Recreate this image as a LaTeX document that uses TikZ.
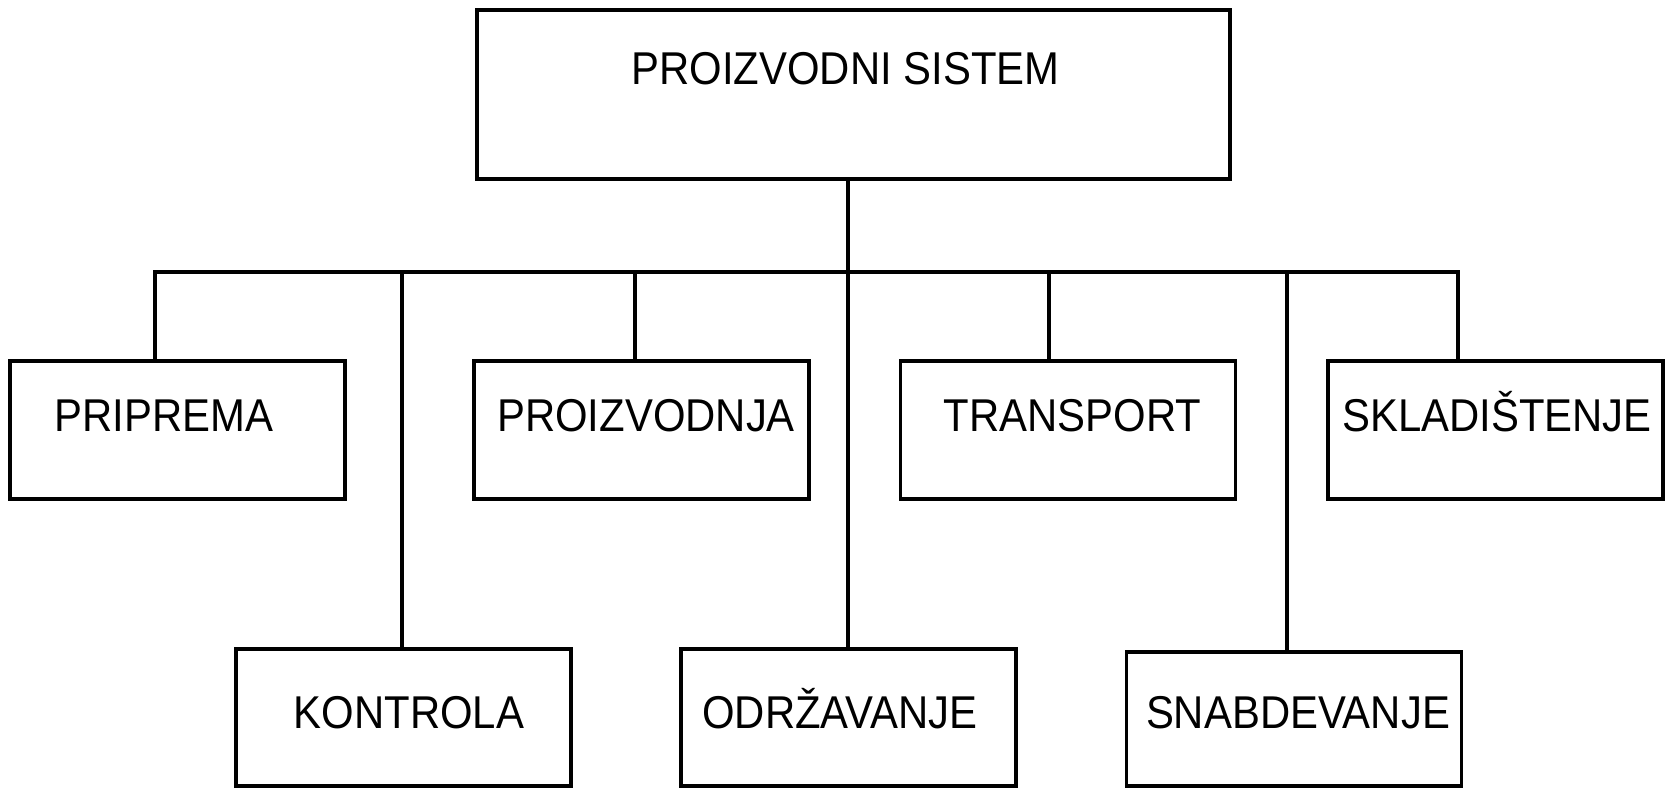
\documentclass[tikz,border=0pt]{standalone}
\usepackage{fontspec}
\setmainfont[FakeStretch=0.91]{Liberation Sans}
\begin{document}
\begin{tikzpicture}[x=1pt,y=-1pt,
  line width=3.1pt, line cap=rect, line join=miter,
  box/.style={draw, rectangle, inner sep=0pt, minimum width=335pt, minimum height=138pt},
  lbl/.style={anchor=base, inner sep=0pt, font=\fontsize{46pt}{46pt}\selectfont}]
\useasboundingbox (0,0) rectangle (1665,787);

% top box
\node[draw, rectangle, inner sep=0pt, minimum width=753pt, minimum height=169pt] (sys) at (853.5,94.5) {};
\node[lbl] (sys-t) at (845.5,84) {PROIZVODNI SISTEM};

% first row
\node[box] (pri) at (177.5,430) {};
\node[box] (pro) at (641.5,430) {};
\node[box] (tra) at (1068,430) {};
\node[box] (skl) at (1495.5,430) {};
\node[lbl] (pri-t) at (164,431) {PRIPREMA};
\node[lbl] (pro-t) at (646,431) {PROIZVODNJA};
\node[lbl] (tra-t) at (1072.5,431) {TRANSPORT};
\node[lbl] (skl-t) at (1497,431) {SKLADIŠTENJE};

% second row
\node[box, minimum height=137pt] (kon) at (403.5,717.5) {};
\node[box, minimum height=137pt] (odr) at (848.5,717.5) {};
\node[box, minimum height=134pt] (sna) at (1294,719) {};
\node[lbl] (kon-t) at (409,728.5) {KONTROLA};
\node[lbl] (odr-t) at (840,728.5) {ODRŽAVANJE};
\node[lbl] (sna-t) at (1298,728.5) {SNABDEVANJE};

% taps on the horizontal bus
\coordinate (b1) at (155,272);
\coordinate (b2) at (402,272);
\coordinate (b3) at (635,272);
\coordinate (b4) at (848,272);
\coordinate (b5) at (1049,272);
\coordinate (b6) at (1287,272);
\coordinate (b7) at (1458,272);

% bus with its two outer drops
\draw (b1 |- pri.north) -- (b1) -- (b7) -- (b7 |- skl.north);
% trunk from the top box down to the middle bottom box
\draw (b4 |- sys.south) -- (b4 |- odr.north);
% remaining drops
\draw (b3) -- (b3 |- pro.north);
\draw (b5) -- (b5 |- tra.north);
\draw (b2) -- (b2 |- kon.north);
\draw (b6) -- (b6 |- sna.north);
\end{tikzpicture}
\end{document}
